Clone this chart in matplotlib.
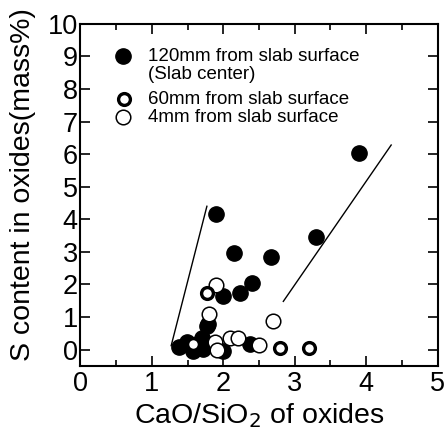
import matplotlib.pyplot as plt
import numpy as np

plt.rcParams['font.family'] = ['Liberation Sans', 'DejaVu Sans']

# 120mm from slab surface (slab center) - filled
x_120 = [3.90, 1.90, 3.30, 2.15, 2.67, 2.40, 2.24, 1.99, 1.78, 1.77,
         1.38, 1.49, 1.58, 1.70, 1.72, 2.00, 2.38]
y_120 = [6.05, 4.15, 3.45, 2.95, 2.85, 2.05, 1.75, 1.65, 0.78, 0.72,
         0.08, 0.22, -0.03, 0.37, 0.02, -0.03, 0.17]

# 60mm from slab surface - thick open
x_60 = [1.77, 1.58, 2.79, 3.20]
y_60 = [1.75, 0.17, 0.06, 0.06]

# 4mm from slab surface - thin open
x_4 = [1.90, 1.80, 2.69, 2.10, 2.21, 2.50, 1.89, 1.91]
y_4 = [1.97, 1.08, 0.87, 0.37, 0.37, 0.15, 0.22, 0.0]

# guide lines
line1_x = [1.27, 1.77]
line1_y = [0.12, 4.40]
line2_x = [2.84, 4.35]
line2_y = [1.48, 6.28]

fig = plt.figure(figsize=(4.47, 4.34), dpi=100)
ax = fig.add_axes([0.180, 0.157, 0.799, 0.788])

ax.plot(line1_x, line1_y, color='black', lw=1.0)
ax.plot(line2_x, line2_y, color='black', lw=1.0)

ax.plot(x_120, y_120, 'o', ms=11, mfc='black', mec='black', mew=1, ls='none')
ax.plot(x_4, y_4, 'o', ms=10.5, mfc='white', mec='black', mew=1.1, ls='none')
ax.plot(x_60, y_60, 'o', ms=8.5, mfc='white', mec='black', mew=2.4, ls='none')

ax.set_xlim(0, 5)
ax.set_ylim(-0.5, 10)
ax.set_xticks(np.arange(0, 6, 1))
ax.set_xticks(np.arange(0.5, 5, 1), minor=True)
ax.set_yticks(np.arange(0, 11, 1))
ax.tick_params(axis='both', which='both', direction='in', top=True, right=True,
               labelsize=19.5, width=1.2)
ax.tick_params(axis='both', which='major', length=7)
ax.tick_params(axis='x', which='minor', length=4)
ax.tick_params(axis='x', pad=4)
ax.tick_params(axis='y', pad=2)
for s in ax.spines.values():
    s.set_linewidth(1.5)

ax.set_xlabel('CaO/SiO$_2$ of oxides', fontsize=20.5, labelpad=3)
ax.set_ylabel('S content in oxides(mass%)', fontsize=20.5)
ax.yaxis.set_label_coords(-0.125, 0.53)

# legend
leg_keys = [(0.120, 0.905, 11, 'black', 1),
            (0.122, 0.780, 8.5, 'white', 2.4),
            (0.120, 0.727, 10.5, 'white', 1.1)]
for kx, ky, kms, kfc, kmew in leg_keys:
    ax.plot([kx], [ky], 'o', ms=kms, mfc=kfc, mec='black', mew=kmew,
            transform=ax.transAxes, clip_on=False)
ax.text(0.188, 0.905, '120mm from slab surface', transform=ax.transAxes,
        fontsize=13.5, va='center')
ax.text(0.188, 0.853, '(Slab center)', transform=ax.transAxes,
        fontsize=13.5, va='center')
ax.text(0.188, 0.780, '60mm from slab surface', transform=ax.transAxes,
        fontsize=13.5, va='center')
ax.text(0.188, 0.727, '4mm from slab surface', transform=ax.transAxes,
        fontsize=13.5, va='center')

fig.savefig('out.png', dpi=100)
